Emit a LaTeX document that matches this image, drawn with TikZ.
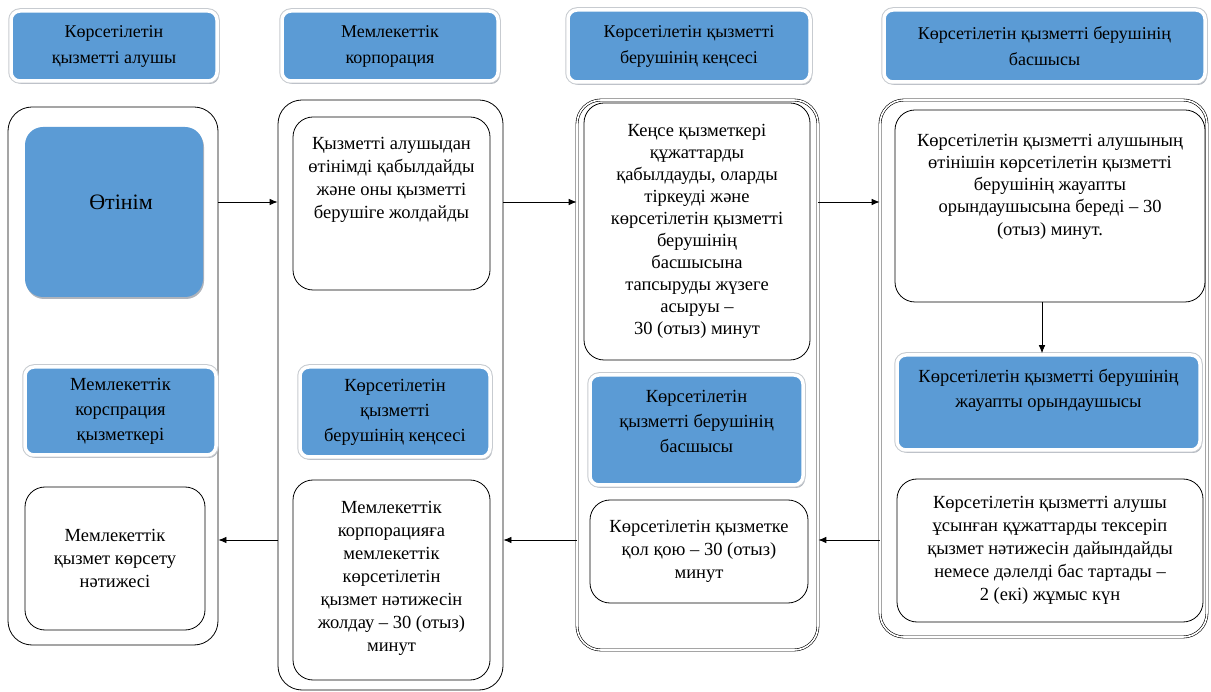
\documentclass[tikz,border=0pt]{standalone}
\usepackage{fontspec}
\setmainfont{Liberation Serif}
\newfontfamily\KzFont{Liberation Serif}
\usepackage{tikz}
\usetikzlibrary{arrows.meta}
\usetikzlibrary{shadows}
\usetikzlibrary{positioning}
\usepackage{xcolor}
\definecolor{ColBlue}{RGB}{91,155,213}
\definecolor{ColShade}{RGB}{175,180,188}
\tikzstyle{HeadBox}=[rectangle,rounded corners=9pt,fill=ColBlue,draw=white,line width=3.5pt,
drop shadow={shadow xshift=2pt,shadow yshift=-3pt,fill=ColShade,opacity=1},
preaction={draw=ColShade!70,line width=5.5pt},
inner sep=2pt,align=center,font=\KzFont\fontsize{18}{26}\selectfont]
\tikzstyle{BlueBox}=[HeadBox,font=\KzFont\fontsize{18.5}{25}\selectfont]
\tikzstyle{PlainBlue}=[rectangle,rounded corners=18pt,fill=ColBlue,
drop shadow={shadow xshift=1pt,shadow yshift=-2pt,fill=ColShade,opacity=1}]
\tikzstyle{ColFrame}=[rectangle,rounded corners=24pt,draw,line width=0.8pt]
\tikzstyle{DoubleFrame}=[ColFrame,double,double distance=1.6pt,line width=0.6pt]
\tikzstyle{StepBox}=[rectangle,rounded corners=20pt,draw,line width=0.8pt,align=center,
inner sep=2pt,font=\KzFont\fontsize{18.5}{23}\selectfont]
\tikzstyle{StepText}=[align=center,inner sep=0pt,font=\KzFont\fontsize{18.5}{23}\selectfont]
\tikzstyle{FlowArrow}=[-{Latex[length=8pt,width=6.5pt]},line width=0.8pt]

\begin{document}
\begin{tikzpicture}[x=1pt,y=-1pt]
        \useasboundingbox(0,0)rectangle(1211,692);
        % column heads
        \node[HeadBox,minimum width=206,minimum height=70](h1)at(114,46){Көрсетілетін\\қызметті алушы};
        \node[HeadBox,minimum width=216,minimum height=70](h2)at(390,46){Мемлекеттік\\корпорация};
        \node[HeadBox,minimum width=242,minimum height=72](h3)at(689,46){Көрсетілетін қызметті\\берушінің кеңсесі};
        \node[HeadBox,minimum width=321,minimum height=72](h4)at(1044.5,46){Көрсетілетін қызметті берушінің\\басшысы};
        % column frames
        \node[ColFrame,minimum width=210,minimum height=538](c1)at(113,376){};
        \node[ColFrame,minimum width=225,minimum height=590](c2)at(390.5,395){};
        \node[DoubleFrame,minimum width=241,minimum height=550](c3)at(697.5,375){};
        \node[DoubleFrame,minimum width=327,minimum height=537](c4)at(1043.5,368.5){};
        % first column
        \node[PlainBlue,minimum width=178,minimum height=170](b11)at(114,212){};
        \node[StepText,font=\KzFont\fontsize{22}{26}\selectfont](t11)at(121,202){Өтінім};
        \node[BlueBox,minimum width=191,minimum height=88](b12)at(120.5,411){Мемлекеттік\\корспрация\\қызметкері};
        \node[StepBox,minimum width=180,minimum height=143](b13)at(115,558.5){Мемлекеттік\\қызмет көрсету\\нәтижесі};
        % second column
        \node[StepBox,minimum width=197,minimum height=173](b21)at(391.5,203.5){};
        \node[StepText,below=20pt of b21.north](t21){Қызметті алушыдан\\өтінімді қабылдайды\\және оны қызметті\\берушіге жолдайды};
        \node[BlueBox,minimum width=190,minimum height=90](b22)at(395,412){Көрсетілетін\\қызметті\\берушінің кеңсесі};
        \node[StepBox,minimum width=197,minimum height=200](b23)at(391.5,580){};
        \node[StepText,below=21pt of b23.north](t23){Мемлекеттік\\корпорацияға\\мемлекеттік\\көрсетілетін\\қызмет нәтижесін\\жолдау – 30 (отыз)\\минут};
        % third column
        \node[StepBox,minimum width=226,minimum height=257,font=\KzFont\fontsize{18.5}{22}\selectfont](b31)at(697,231.5){Кеңсе қызметкері\\құжаттарды\\қабылдауды, оларды\\тіркеуді және\\көрсетілетін қызметті\\берушінің\\басшысына\\тапсыруды жүзеге\\асыруы –\\30 (отыз) минут};
        \node[BlueBox,minimum width=213,minimum height=110](b32)at(696.5,430){};
        \node[StepText,below=17pt of b32.north,font=\KzFont\fontsize{18.5}{25}\selectfont](t32){Көрсетілетін\\қызметті берушінің\\басшысы};
        \node[StepBox,minimum width=218,minimum height=103](b33)at(699,551.5){Көрсетілетін қызметке\\қол қою – 30 (отыз)\\минут};
        % fourth column
        \node[StepBox,minimum width=310,minimum height=192](b41)at(1050,206){};
        \node[StepText,below=24pt of b41.north,font=\KzFont\fontsize{18.5}{22.3}\selectfont](t41){Көрсетілетін қызметті алушының\\өтінішін көрсетілетін қызметті\\берушінің жауапты\\орындаушысына береді – 30\\(отыз) минут.};
        \node[BlueBox,minimum width=303,minimum height=95](b42)at(1048.5,402.5){};
        \node[StepText,below=16pt of b42.north,font=\KzFont\fontsize{18.5}{25}\selectfont](t42){Көрсетілетін қызметті берушінің\\жауапты орындаушысы};
        \node[StepBox,minimum width=306,minimum height=143](b43)at(1050,550.5){Көрсетілетін қызметті алушы\\ұсынған құжаттарды тексеріп\\қызмет нәтижесін дайындайды\\немесе дәлелді бас тартады –\\2 (екі) жұмыс күн};
        % arrows
        \coordinate(up)at(0,202);
        \coordinate(down)at(0,540);
        \draw[FlowArrow](c1.east|-up)--(c2.west|-up);
        \draw[FlowArrow](c2.east|-up)--(c3.west|-up);
        \draw[FlowArrow](c3.east|-up)--(c4.west|-up);
        \draw[FlowArrow]([xshift=-8pt]b41.south)--([xshift=-8pt]b41.south|-b42.north);
        \draw[FlowArrow](c4.west|-down)--(c3.east|-down);
        \draw[FlowArrow](c3.west|-down)--(c2.east|-down);
        \draw[FlowArrow](c2.west|-down)--(c1.east|-down);
    \end{tikzpicture}
\end{document}
